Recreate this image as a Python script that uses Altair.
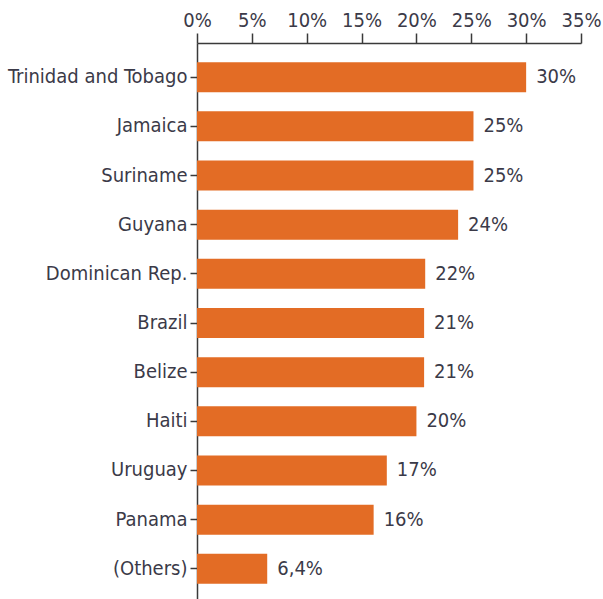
import altair as alt
import pandas as pd

countries = ["Trinidad and Tobago", "Jamaica", "Suriname", "Guyana", "Dominican Rep.",
             "Brazil", "Belize", "Haiti", "Uruguay", "Panama", "(Others)"]
values = [30.0, 25.2, 25.2, 23.8, 20.8, 20.7, 20.7, 20.0, 17.3, 16.1, 6.4]
labels = ["30%", "25%", "25%", "24%", "22%", "21%", "21%", "20%", "17%", "16%", "6,4%"]
ticks = [0, 5, 10, 15, 20, 25, 30, 35]

df = pd.DataFrame({"country": countries, "value": values, "label": labels})

FONT = "Liberation Sans Narrow, Arial Narrow, DejaVu Sans Condensed, sans-serif"
TEXT = "#3b3a48"
ORANGE = "#E36C25"
AXIS = "#3a3a3a"

y = alt.Y("country:N", sort=countries, title=None,
          scale=alt.Scale(paddingInner=0.39, paddingOuter=0.39),
          axis=alt.Axis(tickSize=7, labelPadding=3, labelFontSize=20, labelFont=FONT,
                        labelColor=TEXT, domainColor=AXIS, tickColor=AXIS,
                        domainWidth=1.5, tickWidth=1.5))
x = alt.X("value:Q", title=None,
          scale=alt.Scale(domain=[0, 35], nice=False),
          axis=alt.Axis(orient="top", values=ticks, labelExpr="datum.value + '%'",
                        tickSize=10, labelPadding=3, labelFontSize=20, labelFont=FONT,
                        labelColor=TEXT, domainColor=AXIS, tickColor=AXIS,
                        domainWidth=1.5, tickWidth=1.5, grid=False, labelFlush=False))

bars = alt.Chart(df).mark_bar(color=ORANGE).encode(x=x, y=y)
text = alt.Chart(df).mark_text(align="left", baseline="middle", dx=10, fontSize=20,
                               font=FONT, color=TEXT).encode(x="value:Q", y=alt.Y("country:N", sort=countries), text="label:N")

chart = (bars + text).properties(
    width=384, height=560,
    padding={"left": 197, "top": 43, "right": 22, "bottom": 0},
    autosize="none",
).configure_view(stroke=None)

chart.save("out.html", embed_options={"renderer": "svg", "actions": False})
